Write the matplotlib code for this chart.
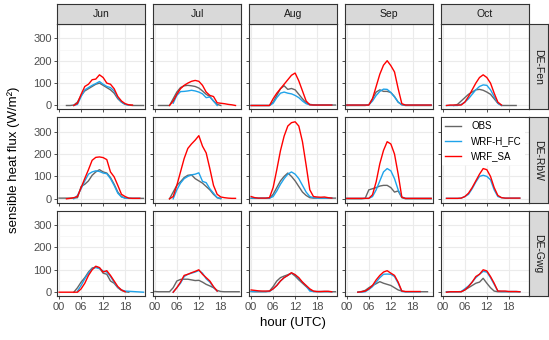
import numpy as np
import matplotlib
matplotlib.use("Agg")
import matplotlib.pyplot as plt
from matplotlib.lines import Line2D

N = np.nan

# DATA - hourly mean sensible heat flux (W/m2), hours 00..23 UTC
hours = list(range(24))
months = ["Jun", "Jul", "Aug", "Sep", "Oct"]
stations = ["DE-Fen", "DE-RbW", "DE-Gwg"]
series_names = ["OBS", "WRF-H_FC", "WRF_SA"]

# DE-Fen
fen_obs_jun = [N, N, 0, 0, 2, 15, 45, 65, 75, 85, 95, 100, 90, 80, 70, 55, 30, 15, 5, 2, 0, 0, 0, 0]
fen_hfc_jun = [N, N, N, N, 0, 5, 40, 70, 80, 90, 98, 107, 95, 85, 80, 65, 35, 15, 5, 2, N, N, N, N]
fen_sa_jun = [N, N, N, N, 0, 10, 50, 85, 95, 115, 118, 137, 125, 100, 95, 75, 40, 20, 8, 3, 2, N, N, N]
fen_obs_jul = [N, 0, 0, 0, 0, 30, 60, 80, 88, 90, 88, 85, 78, 65, 50, 40, 20, 5, 0, N, N, N, N, N]
fen_hfc_jul = [N, N, N, N, N, 10, 45, 62, 63, 65, 68, 65, 60, 52, 35, 38, 20, 0, N, N, N, N, N, N]
fen_sa_jul = [N, N, N, N, 0, 20, 50, 75, 90, 100, 108, 112, 108, 90, 60, 45, 40, 12, 10, 8, 5, 3, 0, N]
fen_obs_aug = [0, 0, 0, 0, 0, 0, 15, 45, 75, 88, 72, 76, 70, 50, 30, 12, 5, 3, 2, 2, 2, 2, 2, 2]
fen_hfc_aug = [0, 0, 0, 0, 0, 0, 10, 35, 55, 60, 55, 52, 45, 35, 20, 8, 3, 2, 2, 2, 2, 2, 2, N]
fen_sa_aug = [0, 0, 0, 0, 0, 0, 30, 55, 75, 95, 115, 135, 145, 110, 65, 20, 3, 2, 2, 2, 2, 2, 2, N]
fen_obs_sep = [0, 0, 0, 0, 0, 0, 3, 30, 60, 70, 63, 63, 58, 40, 15, 3, 0, 0, 0, 0, 0, 0, 0, 0]
fen_hfc_sep = [2, 2, 2, 2, 2, 2, 3, 20, 45, 63, 73, 72, 58, 38, 15, 4, 2, 2, 2, 2, 2, 2, 2, 2]
fen_sa_sep = [2, 2, 2, 2, 2, 2, 2, 30, 85, 140, 180, 200, 178, 150, 75, 8, 2, 2, 2, 2, 2, 2, 2, 2]
fen_obs_oct = [N, N, N, 0, 5, 20, 35, 50, 60, 70, 72, 68, 60, 50, 30, 10, 0, 0, 0, 0, 0, N, N, N]
fen_hfc_oct = [N, 0, 0, 0, 0, 5, 15, 30, 50, 70, 85, 92, 90, 70, 40, 10, 0, N, N, N, N, N, N, N]
fen_sa_oct = [N, 0, 2, 2, 2, 2, 15, 40, 70, 100, 125, 137, 125, 100, 55, 15, 2, N, N, N, N, N, N, N]

# DE-RbW
rbw_obs_jun = [3, 3, 3, 3, 3, 5, 55, 65, 80, 105, 120, 130, 120, 115, 95, 65, 30, 10, 3, 2, 2, 2, 2, 2]
rbw_hfc_jun = [N, N, N, N, 0, 15, 45, 80, 110, 120, 125, 122, 115, 112, 90, 60, 25, 8, 3, 2, 2, 2, 2, N]
rbw_sa_jun = [N, N, 0, 2, 5, 10, 50, 91, 130, 172, 185, 187, 184, 175, 120, 98, 60, 20, 10, 3, 2, 2, 2, N]
rbw_obs_jul = [N, N, N, N, 0, 30, 60, 76, 95, 105, 107, 90, 80, 70, 55, 40, 20, 5, 0, N, N, N, N, N]
rbw_hfc_jul = [N, N, N, N, N, 0, 40, 70, 90, 100, 107, 110, 116, 78, 72, 45, 25, 5, 2, N, N, N, N, N]
rbw_sa_jul = [N, N, N, N, 0, 10, 60, 120, 180, 225, 245, 262, 282, 235, 205, 135, 60, 20, 8, 5, 3, 2, 2, N]
rbw_obs_aug = [2, 2, 2, 2, 2, 2, 20, 50, 80, 100, 115, 100, 80, 55, 30, 15, 5, 3, 3, 3, 3, 3, 3, 3]
rbw_hfc_aug = [3, 3, 3, 3, 3, 3, 10, 35, 65, 90, 110, 120, 110, 90, 60, 30, 10, 5, 3, 3, 3, 3, 3, N]
rbw_sa_aug = [10, 5, 3, 3, 3, 5, 50, 130, 215, 280, 325, 340, 344, 325, 255, 150, 40, 10, 8, 7, 8, 5, 3, N]
rbw_obs_sep = [0, 0, 0, 0, 0, 2, 40, 45, 50, 57, 60, 60, 50, 30, 35, 5, 0, 0, 0, 0, 0, 0, 0, 0]
rbw_hfc_sep = [2, 2, 2, 2, 2, 2, 2, 10, 40, 80, 120, 135, 125, 90, 40, 8, 2, 2, 2, 2, 2, 2, 2, 2]
rbw_sa_sep = [2, 2, 2, 2, 2, 2, 2, 18, 76, 157, 216, 255, 245, 200, 110, 7, 2, 2, 2, 2, 2, 2, 2, 2]
rbw_obs_oct = [N] * 24
rbw_hfc_oct = [N, 2, 2, 2, 2, 3, 10, 20, 45, 75, 100, 105, 100, 85, 40, 10, 5, 3, 3, 3, 3, 3, N, N]
rbw_sa_oct = [N, 2, 2, 2, 2, 3, 10, 25, 50, 80, 110, 135, 130, 100, 50, 15, 5, 3, 3, 3, 3, 3, N, N]

# DE-Gwg
gwg_obs_jun = [N, N, N, N, 0, 20, 45, 65, 90, 108, 112, 108, 85, 80, 50, 40, 20, 8, 2, 0, N, N, N, N]
gwg_hfc_jun = [N, N, N, N, N, 5, 30, 60, 85, 105, 110, 105, 95, 90, 70, 45, 22, 10, 5, 4, 3, 2, 1, 0]
gwg_sa_jun = [0, 0, 0, 0, 0, 0, 15, 40, 75, 100, 116, 110, 90, 96, 75, 50, 25, 10, 2, N, N, N, N, N]
gwg_obs_jul = [3, 2, 2, 2, 2, 20, 50, 57, 58, 58, 55, 52, 53, 45, 35, 28, 20, 8, 3, 2, 2, 2, 2, 2]
gwg_hfc_jul = [N, N, N, N, N, 0, 20, 40, 70, 80, 85, 90, 97, 85, 60, 45, 22, 5, N, N, N, N, N, N]
gwg_sa_jul = [N, N, N, N, N, 0, 20, 45, 75, 80, 87, 93, 100, 80, 65, 50, 25, 5, N, N, N, N, N, N]
gwg_obs_aug = [3, 2, 2, 2, 2, 5, 25, 50, 65, 72, 78, 85, 72, 55, 40, 25, 10, 3, 2, 2, 2, 2, 2, 2]
gwg_hfc_aug = [3, 3, 3, 3, 3, 3, 15, 30, 50, 65, 75, 85, 78, 60, 45, 28, 5, 3, 3, 3, 3, 3, 2, N]
gwg_sa_aug = [10, 8, 6, 5, 5, 5, 15, 30, 50, 65, 75, 87, 78, 65, 45, 30, 15, 5, 3, 3, 4, 4, 2, N]
gwg_obs_sep = [N, N, N, 0, 3, 8, 20, 30, 38, 47, 40, 35, 30, 20, 10, 5, 2, 2, 2, 2, 2, 2, 2, N]
gwg_hfc_sep = [N, N, N, 0, 0, 2, 12, 25, 45, 65, 80, 81, 80, 70, 40, 3, 2, 2, 2, 2, 2, N, N, N]
gwg_sa_sep = [N, N, N, 0, 2, 5, 15, 30, 55, 75, 90, 96, 85, 75, 45, 5, 3, 3, 3, 3, 3, N, N, N]
gwg_obs_oct = [N, 2, 2, 2, 2, 2, 10, 20, 30, 40, 45, 62, 40, 20, 5, 2, 2, 2, 2, 2, 2, 2, N, N]
gwg_hfc_oct = [N, 2, 2, 2, 2, 3, 15, 28, 45, 65, 80, 93, 90, 65, 35, 5, 3, 3, 3, 3, 3, 2, N, N]
gwg_sa_oct = [N, 0, 2, 2, 2, 2, 10, 25, 45, 70, 80, 100, 95, 70, 40, 5, 5, 5, 3, 3, 3, 2, N, N]

panels = {
    "DE-Fen": [(fen_obs_jun, fen_hfc_jun, fen_sa_jun), (fen_obs_jul, fen_hfc_jul, fen_sa_jul),
               (fen_obs_aug, fen_hfc_aug, fen_sa_aug), (fen_obs_sep, fen_hfc_sep, fen_sa_sep),
               (fen_obs_oct, fen_hfc_oct, fen_sa_oct)],
    "DE-RbW": [(rbw_obs_jun, rbw_hfc_jun, rbw_sa_jun), (rbw_obs_jul, rbw_hfc_jul, rbw_sa_jul),
               (rbw_obs_aug, rbw_hfc_aug, rbw_sa_aug), (rbw_obs_sep, rbw_hfc_sep, rbw_sa_sep),
               (rbw_obs_oct, rbw_hfc_oct, rbw_sa_oct)],
    "DE-Gwg": [(gwg_obs_jun, gwg_hfc_jun, gwg_sa_jun), (gwg_obs_jul, gwg_hfc_jul, gwg_sa_jul),
               (gwg_obs_aug, gwg_hfc_aug, gwg_sa_aug), (gwg_obs_sep, gwg_hfc_sep, gwg_sa_sep),
               (gwg_obs_oct, gwg_hfc_oct, gwg_sa_oct)],
}

colors = ["#666666", "#1fa3ea", "#ff0000"]

# LAYOUT (pixels)
W, H = 549, 340
col_left = [57.3, 153, 249.3, 345, 441]
panel_w = 88
row_top = [24, 117.3, 210.7]
panel_h = 85.3
strip_h = 20
strip_w = 18.7

plt.rcParams["font.family"] = ["Liberation Sans", "DejaVu Sans"]
fig = plt.figure(figsize=(W / 100, H / 100), dpi=100)
fig.patch.set_facecolor("white")

def frac(x, y, w, h):
    return [x / W, 1 - (y + h) / H, w / W, h / H]

def style_strip(sax):
    sax.set_facecolor("#d9d9d9")
    sax.set_xticks([])
    sax.set_yticks([])
    for s in sax.spines.values():
        s.set_color("#333333")
        s.set_linewidth(0.8)

for r, st in enumerate(stations):
    for c, mon in enumerate(months):
        ax = fig.add_axes(frac(col_left[c], row_top[r], panel_w, panel_h))
        ax.set_xlim(-0.5, 23.5)
        ax.set_ylim(-17, 364)
        ax.set_xticks([0, 6, 12, 18])
        ax.set_yticks([0, 100, 200, 300])
        ax.set_yticks([50, 150, 250], minor=True)
        ax.grid(True, which="major", color="#ebebeb", lw=0.8)
        ax.grid(True, which="minor", axis="y", color="#f4f4f4", lw=0.5)
        ax.set_axisbelow(True)
        for s in ax.spines.values():
            s.set_color("#333333")
            s.set_linewidth(0.8)
        ax.tick_params(which="major", length=2.5, width=0.6, color="#333333",
                       labelsize=8, labelcolor="#4d4d4d", pad=1.5)
        ax.tick_params(which="minor", length=0)
        if r == 2:
            ax.set_xticklabels(["00", "06", "12", "18"])
        else:
            ax.set_xticklabels([])
        if c == 0:
            ax.set_yticklabels(["0", "100", "200", "300"])
        else:
            ax.set_yticklabels([])
        for vals, col in zip(panels[st][c], colors):
            ax.plot(hours, vals, color=col, lw=1.0)

        if r == 0:
            sax = fig.add_axes(frac(col_left[c], row_top[0] - strip_h, panel_w, strip_h))
            style_strip(sax)
            sax.text(0.5, 0.5, mon, ha="center", va="center", fontsize=7.5, color="#1a1a1a",
                     transform=sax.transAxes)

    sax = fig.add_axes(frac(col_left[4] + panel_w, row_top[r], strip_w, panel_h))
    style_strip(sax)
    sax.text(0.5, 0.5, st, ha="center", va="center", rotation=-90, fontsize=7.5,
             color="#1a1a1a", transform=sax.transAxes)

# axis titles
fig.text(14 / W, 1 - 160 / H, "sensible heat flux (W/m²)", rotation=90,
         ha="center", va="center", fontsize=9.5)
fig.text(293 / W, 1 - 323 / H, "hour (UTC)", ha="center", va="center", fontsize=9.5)

# legend inside Oct / DE-RbW panel
handles = [Line2D([], [], color=col, lw=1.0) for col in colors]
leg = fig.legend(handles, series_names, loc="upper left",
                 bbox_to_anchor=(442 / W, 1 - 118 / H), borderaxespad=0,
                 frameon=True, fontsize=7, handlelength=1.7, handletextpad=1.0,
                 labelspacing=0.55, borderpad=0.3, fancybox=False)
frame = leg.get_frame()
frame.set_edgecolor("white")
frame.set_facecolor("white")
frame.set_alpha(1.0)
frame.set_linewidth(0)

fig.savefig("out.png", dpi=100)
